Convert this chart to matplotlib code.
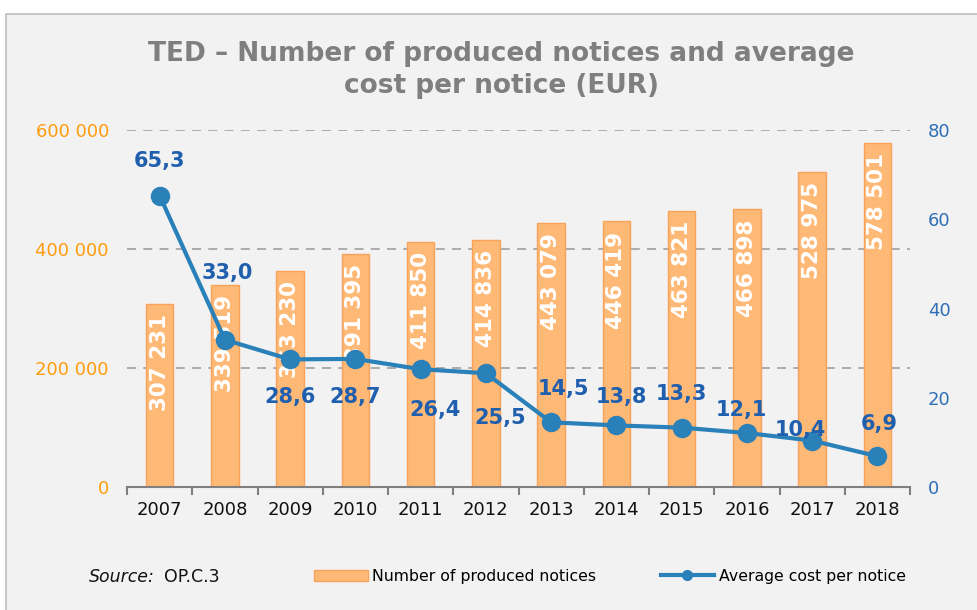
import numpy as np
import matplotlib
matplotlib.use("Agg")
import matplotlib.pyplot as plt
from matplotlib.patches import Rectangle, Patch
from matplotlib.lines import Line2D
from matplotlib.ticker import FuncFormatter

# --- Datos ---
anios = ["2007", "2008", "2009", "2010", "2011", "2012",
         "2013", "2014", "2015", "2016", "2017", "2018"]
avisos = [307231, 339519, 363230, 391395, 411850, 414836,
          443079, 446419, 463821, 466898, 528975, 578501]
costo = [65.3, 33.0, 28.6, 28.7, 26.4, 25.5,
         14.5, 13.8, 13.3, 12.1, 10.4, 6.9]

# desplazamientos de las etiquetas de costo (px)
offs_costo = [(0, 35), (2, 67), (0, -38), (0, -38), (14, -41), (14, -45),
              (12, 33), (5, 28), (0, 34), (-6, 23), (-12, 11), (2, 32)]

NARANJA = "#ffb976"
NARANJA_BORDE = "#f9a35a"
NARANJA_TXT = "#ff9c0e"
AZUL = "#2a80b9"
AZUL_TXT = "#1f5fad"
GRIS = "#7f7f7f"

plt.rcParams["font.family"] = "DejaVu Sans"

fig = plt.figure(figsize=(9.77, 6.10), dpi=100)
fig.patch.set_facecolor("white")
fig.patches.append(Rectangle((6 / 977, -0.01), 1.0, 1 - 14 / 610 + 0.01,
                             transform=fig.transFigure, facecolor="#f2f2f2",
                             edgecolor="#bfbfbf", lw=1.2, zorder=-10))

ax = fig.add_axes([127 / 977, 1 - 487 / 610, (910 - 127) / 977, (487 - 130) / 610])
ax.set_facecolor("none")
x = np.arange(len(anios))

ax.bar(x, avisos, width=0.42, color=NARANJA, edgecolor=NARANJA_BORDE, lw=1, zorder=2)
ax.set_ylim(0, 600000)
ax.set_xlim(-0.5, len(anios) - 0.5)
ax.set_yticks([0, 200000, 400000, 600000])
ax.yaxis.set_major_formatter(FuncFormatter(lambda v, p: f"{int(v):,}".replace(",", " ")))
ax.tick_params(axis="y", length=0, pad=13, labelsize=13, labelcolor=NARANJA_TXT)
ax.grid(axis="y", color="#a6a6a6", ls=(0, (5, 4)), lw=1.3, zorder=0)
ax.set_axisbelow(True)

ax.set_xticks(x)
ax.set_xticklabels(anios)
ax.set_xticks(np.arange(-0.5, len(anios)), minor=True)
ax.tick_params(axis="x", which="major", length=0, pad=10, labelsize=13, labelcolor="#111111")
ax.tick_params(axis="x", which="minor", length=6, width=1.5, color=GRIS, direction="out")
for s in ["top", "left", "right"]:
    ax.spines[s].set_visible(False)
ax.spines["bottom"].set_color(GRIS)
ax.spines["bottom"].set_linewidth(1.5)

for xi, v in zip(x, avisos):
    ax.annotate(f"{v:,}".replace(",", " "), (xi, v), xytext=(0, -10),
                textcoords="offset pixels", rotation=90, ha="center", va="top",
                color="white", fontsize=15.5, fontweight="bold", zorder=4)

ax2 = ax.twinx()
ax2.set_ylim(0, 80)
ax2.set_yticks([0, 20, 40, 60, 80])
ax2.tick_params(axis="y", length=0, pad=13, labelsize=13, labelcolor="#2e6fb5")
for s in ["top", "left", "right", "bottom"]:
    ax2.spines[s].set_visible(False)
ax2.plot(x, costo, color=AZUL, lw=3, marker="o", markersize=13, zorder=5)
for xi, v, (dx, dy) in zip(x, costo, offs_costo):
    ax2.annotate(f"{v:.1f}".replace(".", ","), (xi, v), xytext=(dx, dy),
                 textcoords="offset pixels", ha="center", va="center",
                 color=AZUL_TXT, fontsize=15, fontweight="bold", zorder=6)

fig.text(501 / 977, 1 - 70 / 610,
         "TED \u2013 Number of produced notices and average\ncost per notice (EUR)",
         ha="center", va="center", fontsize=19, fontweight="bold",
         color=GRIS, linespacing=1.33)

# Fuente
fig.text(89 / 977, 1 - 577 / 610, "Source:", fontsize=12.5, style="italic",
         color="#111111", va="center")
fig.text(164 / 977, 1 - 577 / 610, "OP.C.3", fontsize=12.5, color="#111111", va="center")

handles = [Patch(facecolor=NARANJA, edgecolor=NARANJA_BORDE),
           Line2D([0], [0], color=AZUL, lw=3, marker="o", markersize=7)]
fig.legend(handles, ["Number of produced notices", "Average cost per notice"],
           loc="center", bbox_to_anchor=(610 / 977, 1 - 576 / 610), ncol=2,
           frameon=False, fontsize=11.3, handlelength=3.4, handletextpad=0.3,
           columnspacing=4.1)

fig.savefig("out.png", dpi=100)
